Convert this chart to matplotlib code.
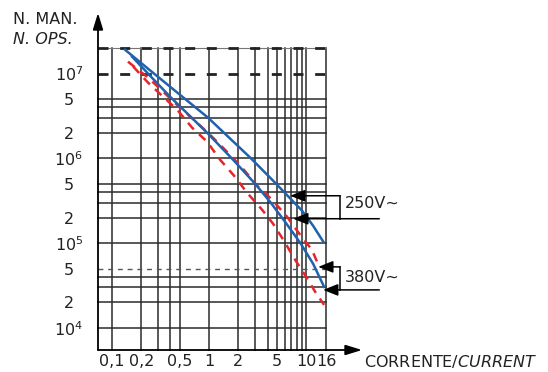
import matplotlib
matplotlib.use("Agg")
import matplotlib.pyplot as plt

plt.rcParams['font.family'] = ['DejaVu Sans']
plt.rcParams['mathtext.fontset'] = 'dejavusans'

# curve data: current (A) vs number of operations
upper_blue_i = [0.136, 0.235, 0.396, 0.977, 2.65, 4.57, 9.10, 11.8, 15.0]
upper_blue_n = [1.91e7, 1.14e7, 7.0e6, 3.01e6, 1.02e6, 5.44e5, 2.40e5, 1.60e5, 1.04e5]

lower_blue_i = [0.161, 0.246, 0.396, 0.977, 1.77, 2.98, 4.25, 6.07, 8.68, 11.8, 15.3]
lower_blue_n = [1.58e7, 9.44e6, 5.34e6, 1.95e6, 9.6e5, 5.01e5, 3.07e5, 1.78e5, 1.01e5, 5.7e4, 3.05e4]

upper_red_i = [0.146, 0.235, 0.344, 0.502, 0.735, 1.07, 1.57, 2.19, 3.20, 4.46, 6.37, 8.68, 11.5, 13.6]
upper_red_n = [1.38e7, 8.95e6, 5.96e6, 3.96e6, 2.70e6, 1.80e6, 1.16e6, 7.74e5, 4.62e5, 3.25e5,
               2.04e5, 1.25e5, 8.3e4, 5.25e4]

lower_red_i = [0.165, 0.235, 0.344, 0.468, 0.668, 0.954, 1.30, 1.81, 2.46, 3.52, 4.57, 6.07,
               7.70, 10.0, 12.4, 15.3]
lower_red_n = [1.21e7, 7.81e6, 5.19e6, 3.75e6, 2.30e6, 1.57e6, 9.6e5, 6.23e5, 3.93e5, 2.47e5,
               1.69e5, 1.01e5, 6.35e4, 4.0e4, 2.66e4, 1.87e4]

# grid of the chart
grid_x = [0.1, 0.2, 0.3, 0.4, 0.5, 1, 2, 3, 4, 5, 6, 7, 8, 9, 10, 16]
grid_y = [1e4, 2e4, 3e4, 4e4, 1e5, 2e5, 3e5, 4e5, 5e5, 1e6, 2e6, 3e6, 4e6, 5e6]
grid_y_thin_dash = [5e4]
grid_y_bold_dash = [1e7, 2e7]

x_ticks = [0.1, 0.2, 0.5, 1, 2, 5, 10, 16]
x_labels = ["0,1", "0,2", "0,5", "1", "2", "5", "10", "16"]
y_ticks = [1e4, 2e4, 5e4, 1e5, 2e5, 5e5, 1e6, 2e6, 5e6, 1e7]
y_labels = ["$10^4$", "2", "5", "$10^5$", "2", "5", "$10^6$", "2", "5", "$10^7$"]

# voltage brackets (arrow tips on the curves)
arrow_tip_i = [6.84, 7.35, 13.3, 14.96]
arrow_tip_n = [3.62e5, 1.94e5, 5.25e4, 2.81e4]
arrow_tail_i = [22.4, 56.6, 22.4, 56.6]
bracket_i = 22.4
volt_labels = ["250V~", "380V~"]
volt_label_n = [2.91e5, 3.89e4]
volt_label_i = 25.2

x_min, x_max = 10 ** -1.1443, 16
y_min, y_max = 10 ** 3.74, 2e7

fig = plt.figure(figsize=(5.48, 3.72), dpi=100)
ax = fig.add_axes([98 / 548, 22 / 372, 228 / 548, 302 / 372])
ax.set_xscale('log')
ax.set_yscale('log')
ax.set_xlim(x_min, x_max)
ax.set_ylim(y_min, y_max)
for s in ax.spines.values():
    s.set_visible(False)

gc = '#2b2b2b'
for x in grid_x:
    ax.plot([x, x], [y_min, y_max], color=gc, lw=1.1, clip_on=False, zorder=1)
for y in grid_y:
    ax.plot([x_min, x_max], [y, y], color=gc, lw=1.1, clip_on=False, zorder=1)
for y in grid_y_thin_dash:
    ax.plot([x_min, x_max], [y, y], color='#555555', lw=1.0, dashes=(3.5, 3.5),
            clip_on=False, zorder=1)
ax.plot([x_min, x_max], [y_max, y_max], color='#777777', lw=0.8, clip_on=False, zorder=1)
for y in grid_y_bold_dash:
    ax.plot([x_min, x_max], [y, y], color='#222222', lw=2.0, dashes=(3.6, 4.2),
            clip_on=False, zorder=2)

# curves
blue = '#1f62ad'
red = '#e8232a'
ax.plot(upper_blue_i, upper_blue_n, color=blue, lw=1.8, zorder=4, clip_on=False)
ax.plot(lower_blue_i, lower_blue_n, color=blue, lw=1.8, zorder=4, clip_on=False)
ax.plot(upper_red_i, upper_red_n, color=red, lw=1.8, dashes=(3.5, 2.8), zorder=3, clip_on=False)
ax.plot(lower_red_i, lower_red_n, color=red, lw=1.8, dashes=(3.5, 2.8), zorder=3, clip_on=False)

# brackets with arrows
for ti, tn, ai in zip(arrow_tip_i, arrow_tip_n, arrow_tail_i):
    ax.annotate('', xy=(ti, tn), xytext=(ai, tn), annotation_clip=False,
                arrowprops=dict(arrowstyle='-|>,head_length=0.5,head_width=0.2',
                                color='black', lw=1.1, mutation_scale=18,
                                shrinkA=0, shrinkB=0), zorder=5)
for k in range(2):
    ax.plot([bracket_i, bracket_i], [arrow_tip_n[2 * k], arrow_tip_n[2 * k + 1]],
            color='black', lw=1.1, clip_on=False, zorder=5)
    ax.text(volt_label_i, volt_label_n[k], volt_labels[k], fontsize=11.5, ha='left',
            va='center', color='#222222')

# ticks
ax.set_xticks(x_ticks)
ax.set_xticklabels(x_labels)
ax.set_yticks(y_ticks)
ax.set_yticklabels(y_labels)
ax.minorticks_off()
ax.tick_params(axis='x', length=0, pad=3, labelsize=11.5, labelcolor='#222222')
ax.tick_params(axis='y', length=0, pad=21, labelsize=11.5, labelcolor='#222222')
for lbl in ax.get_yticklabels():
    lbl.set_ha('center')

# axes with arrows
ax.annotate('', xy=(0, 1.116), xytext=(0, 0), xycoords='axes fraction',
            arrowprops=dict(arrowstyle='-|>,head_length=0.55,head_width=0.17',
                            color='black', lw=1.3, mutation_scale=18,
                            shrinkA=0, shrinkB=0))
ax.annotate('', xy=(1.158, 0), xytext=(0, 0), xycoords='axes fraction',
            arrowprops=dict(arrowstyle='-|>,head_length=0.55,head_width=0.17',
                            color='black', lw=1.3, mutation_scale=18,
                            shrinkA=0, shrinkB=0))

fig.text(13 / 548, 1 - 19 / 372, "N. MAN.", fontsize=11.5, va='center', color='#222222')
fig.text(13 / 548, 1 - 39 / 372, "N. OPS.", fontsize=11.5, va='center', style='italic',
         color='#222222')
fig.text(364 / 548, 1 - 361 / 372, "CORRENTE/$\\mathit{CURRENT}$", fontsize=11.5,
         va='center', color='#222222')

fig.savefig('out.png', dpi=100)
